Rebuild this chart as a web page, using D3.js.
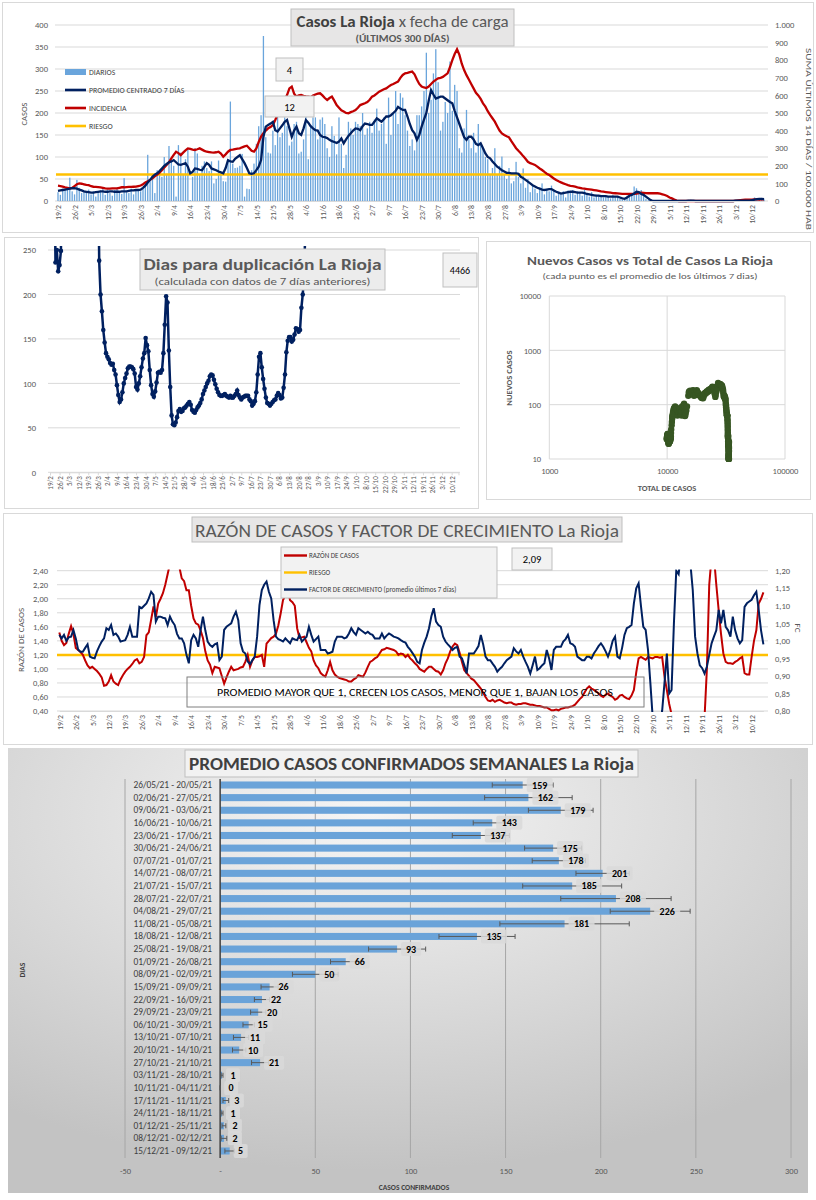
<!DOCTYPE html>
<html lang="es">
<head>
<meta charset="UTF-8">
<script src="https://d3js.org/d3.v7.min.js"></script>
<title>La Rioja</title>
<style>
body {margin: 0; background: #fff;}
svg text {font-family: Carlito, Lato, "Open Sans", sans-serif;}
</style>
</head>
<body>
<svg id="chart" width="816" height="1200"></svg>
<script>
// ---- datos (un valor por dia desde el 19/2/2021) ----
var fechaInicio = new Date(2021, 1, 19);

var diarios = [
 20,14,28,25,30,53,22, 15,48,30,18,22,20,26, 15,22,10,18,24,28,14, 26,18,12,25,30,22,16,
 52,20,18,28,15,26,24, 22,28,32,105,45,60,18, 70,65,55,100,62,125,90, 80,10,127,110,60,95,118,
 2,55,120,108,60,80,90, 75,68,90,40,50,92,60, 45,44,90,226,85,75,76, 80,107,10,28,27,70,85,
 130,170,195,375,145,110,108, 160,127,190,145,155,190,170, 126,135,175,180,108,112,140,
 220,95,170,190,190,140,185, 190,175,120,100,170,148,106, 190,130,75,105,180,165,150,
 180,175,170,200,150,165,180, 155,185,210,160,175,190,130, 235,150,200,250,175,245,235,
 195,160,125,140,115,195,195, 215,250,337,200,230,290,345, 270,160,180,225,200,317,205,
 264,250,120,110,165,207,140, 120,155,110,175,130,120,100, 95,60,75,120,60,80,101,
 60,50,75,40,45,89,55, 40,74,30,50,20,35,28, 18,30,40,15,28,22,35, 25,12,20,15,22,8,24,
 18,25,14,22,20,12,26, 15,10,20,8,14,12,10, 8,12,10,6,14,9,11, 5,3,2,12,18,15,33,
 29,20,25,15,5,2,0, 0,0,0,0,0,0,0, 0,0,0,0,0,0,0, 0,2,3,1,0,0,0, 0,0,1,0,0,0,0,
 0,0,0,0,1,0,0, 2,0,1,3,0,2,1, 4,8,6,3,7,4
];

var promedio7 = [
 23,24,25,26,27,28,29, 29,28,26,24,22,21,20, 19,19,20,21,22,22,21, 21,22,22,21,21,21,22,
 22,22,23,24,24,25,25, 26,30,35,42,48,55,60, 63,68,74,80,84,88,90, 93,88,83,82,84,86,78,
 63,66,74,73,71,70,78, 86,82,74,72,70,67,65, 63,75,93,90,89,96,100, 104,95,86,75,63,62,63,
 70,78,93,146,169,173,176, 180,161,158,165,172,180,184, 165,146,160,169,154,150,165,
 184,178,170,165,161,160,150, 146,145,143,139,136,134,132, 135,142,131,140,148,154,160,
 165,164,161,170,176,175,173, 173,180,188,184,180,186,192, 192,195,200,205,214,210,207,
 207,192,175,161,154,139,150, 169,185,200,228,252,242,233, 235,237,237,233,229,225,222,
 205,190,175,160,145,139,146, 146,140,130,127,131,120,108, 100,97,90,84,78,74,70,
 67,64,64,63,63,63,62, 55,52,48,44,40,36,33, 30,28,26,25,26,27,27, 24,21,19,17,18,19,20,
 21,21,20,19,19,19,18, 16,15,14,13,12,12,11, 11,11,10,10,10,10,10, 8,6,5,8,12,14,17,
 21,20,16,14,10,6,2, 0,0,0,0,0,0,0, 0,0,0,0,0,0,0, 0,1,1,1,0,0,0, 0,0,0,0,0,0,0,
 0,0,0,0,0,0,0, 1,1,1,1,1,1,1, 2,3,4,5,5,4
];

// suma ultimos 14 dias / 100.000 hab
var incidencia = [
 87,85,82,78,75,72,74, 85,95,100,98,95,92,90, 84,81,80,79,78,75,72, 70,70,72,72,72,75,78,
 78,79,80,80,81,82,85, 88,95,105,112,120,129,140, 150,161,175,190,205,220,242, 262,280,272,261,275,288,299,
 296,292,290,294,299,292,285, 280,278,276,275,277,280,270, 252,265,280,290,292,295,298, 299,305,310,314,300,285,280,
 299,335,366,385,400,413,420, 432,460,490,517,545,575,602, 640,650,610,593,600,602,598,
 595,593,590,600,605,610,612, 600,585,574,585,593,570,545, 530,515,508,500,498,505,510,
 517,530,545,550,555,562,575, 593,600,610,621,628,635,640, 650,659,665,672,678,700,716,
 725,728,732,735,720,690,665, 650,645,642,650,665,678,688, 697,700,705,715,725,760,801,
 835,862,830,780,744,715,690, 665,640,615,600,580,555,536, 510,489,470,451,425,400,384,
 375,368,362,340,320,300,285, 271,255,240,223,215,210,205, 195,185,176,165,155,148,138, 128,119,112,106,100,95,90,
 86,85,82,78,75,72,70, 68,66,64,62,60,58,55, 53,51,49,47,45,44,43, 42,41,40,40,40,40,40,
 42,45,47,46,45,44,44, 44,44,44,42,38,34,28, 20,15,8,2,0,0,0, 0,0,0,0,0,0,0, 0,0,0,0,0,0,0,
 0,0,0,0,0,0,0, 2,4,5,6,7,7,8, 8,9,9,8,9,10
];
var riesgoIncidencia = 150;

// dias para duplicacion (400 = fuera de escala)
var duplicacion = [
 400,400,400,400,236,250,226, 233,249,400,400,400,400,400, 400,400,400,400,400,400,400,
 400,400,400,400,400,400,400, 400,400,400,400,400,400,400, 400,238,200,181,160,146,134,
 130,127,123,121,122,115,110, 98,87,79,82,90,100,106, 111,117,119,119,118,116,111,
 96,93,100,108,118,128,134, 151,143,136,115,98,88,85, 91,101,112,113,112,115,134,
 166,198,191,137,96,64,54, 53,56,62,69,71,68,69, 72,73,75,77,79,76,70,
 68,67,70,73,75,78,82, 88,92,96,100,103,108,110, 109,104,99,94,90,87,86,
 86,87,88,86,85,84,86, 84,84,86,88,92,87,84, 82,84,85,86,86,86,82,
 80,75,77,80,90,110,130, 134,118,105,94,84,78,77, 75,77,79,81,82,86,89,
 87,83,84,95,110,135,148, 152,152,147,149,155,162,161, 158,160,185,200,222,280,400
];

var totalInicial = 9900;

var razonCasos = [
 1.52,1.40,1.34,1.37,1.50,1.61,1.50, 1.30,1.27,1.24,1.20,1.12,1.05,1.01, 1.03,1.00,0.97,0.93,0.88,0.76,0.77,
 0.82,0.91,0.82,0.79,0.77,0.85,0.91, 0.96,1.00,1.03,1.07,1.12,1.14,1.08, 1.10,1.17,1.48,1.52,1.70,1.89,1.74,
 1.93,2.00,2.08,2.20,2.35,2.50,2.60, 2.60,2.55,2.45,2.29,2.25,2.12,2.12, 1.90,1.72,1.65,1.63,1.55,1.44,1.25,
 1.12,1.06,0.94,1.03,1.02,1.01,0.90, 0.79,0.88,0.96,1.03,0.98,0.99,1.00, 1.02,1.03,1.10,1.20,1.03,1.12,1.17,
 1.17,1.18,1.20,1.03,1.36,1.40,1.44, 1.46,1.50,1.62,1.79,1.98,2.05,2.12, 1.98,1.95,1.90,1.58,1.44,1.45,1.46,
 1.38,1.30,1.25,1.12,1.05,1.01,0.94, 0.91,0.89,0.98,1.10,0.98,0.92,0.89, 0.87,0.86,0.85,0.84,0.82,0.82,0.85,
 0.87,0.91,0.90,0.89,0.95,1.03,1.10, 1.12,1.15,1.17,1.22,1.27,1.28,1.30, 1.29,1.28,1.27,1.25,1.20,1.22,1.21,
 1.17,1.20,1.15,1.12,1.08,1.05,1.00, 0.98,0.96,1.00,1.03,1.03,1.00,0.97, 0.96,0.92,0.98,1.08,1.15,1.25,1.32,
 1.36,1.34,1.23,1.10,0.98,0.94,0.90, 0.86,0.84,0.80,0.76,0.72,0.66,0.60, 0.55,0.54,0.56,0.53,0.55,0.56,0.54,
 0.52,0.51,0.52,0.52,0.50,0.49,0.50, 0.50,0.51,0.51,0.50,0.49,0.49,0.48, 0.47,0.47,0.46,0.45,0.45,0.43,0.41,
 0.41,0.42,0.41,0.43,0.44,0.45,0.45, 0.46,0.47,0.49,0.53,0.57,0.60,0.66, 0.72,0.75,0.72,0.70,0.68,0.65,0.62,
 0.60,0.63,0.65,0.62,0.60,0.56,0.58, 0.62,0.63,0.60,0.58,0.57,0.62,0.70, 0.95,1.15,1.17,1.15,1.13,1.17,1.16,
 1.15,1.17,1.17,1.16,1.17,0.89,0.70, 0.50,0.35,0.20,0.20,0.20,0.20,0.20, 0.20,0.20,0.20,0.20,0.20,0.20,0.20,
 0.20,0.30,1.00,2.20,2.60,2.60,2.20, 1.84,1.50,1.22,1.10,1.08,1.08,1.07, 1.10,1.12,1.15,1.17,0.94,0.92,0.92,
 1.17,1.40,1.55,1.93,2.00,2.09
];
var riesgoRazon = 1.2;

var factorCrecimiento = [
 1.017,1.007,1.017,1.000,1.010,1.012,1.031, 1.007,0.975,0.969,0.969,0.980,0.990,0.955, 0.952,0.950,0.970,0.985,0.998,1.007,1.036,
 1.031,1.045,1.017,1.021,1.012,0.998,1.000, 1.002,1.017,1.040,1.012,1.012,1.012,1.097, 1.093,1.100,1.107,1.121,1.140,1.131,1.055,
 1.069,1.069,1.066,1.064,1.045,1.069,1.055, 1.045,1.020,1.007,1.007,0.993,0.960,0.936, 1.002,1.017,1.007,0.983,1.031,1.069,1.030,
 0.998,0.988,0.983,0.990,0.993,0.945,0.955, 1.031,1.040,1.045,1.050,1.069,1.083,1.059, 0.993,0.970,0.964,0.941,0.934,0.945,0.955,
 1.012,1.102,1.145,1.160,1.169,1.140,1.121, 1.059,1.012,1.005,1.002,0.998,1.007,1.000, 0.993,1.007,1.004,1.002,1.017,0.998,1.005,
 1.012,1.040,1.017,0.998,1.005,1.012,0.974, 0.974,0.974,0.964,0.966,0.969,0.998,1.012, 1.012,1.012,1.007,1.010,1.021,1.036,1.025,
 1.017,1.036,1.031,1.026,1.021,1.026,1.020, 1.017,1.007,1.007,1.007,1.021,1.007,1.015, 1.021,1.017,1.012,1.010,1.007,1.002,0.998,
 0.995,0.983,0.975,0.965,0.955,0.940,0.936, 0.974,0.995,1.012,1.036,1.070,1.093,1.055, 1.045,1.040,1.012,0.998,0.990,0.983,0.974,
 0.980,0.983,0.955,0.950,0.930,0.907,0.964, 0.964,0.964,0.974,0.985,1.017,0.990,0.955, 0.945,0.945,0.935,0.926,0.912,0.920,0.926,
 0.936,0.945,0.950,0.955,0.979,0.970,0.964, 0.974,0.955,0.940,0.926,0.907,0.930,0.955, 0.917,0.922,0.930,0.936,0.974,0.950,0.917,
 0.974,0.983,0.983,0.983,0.998,1.005,1.017, 0.993,0.990,0.983,0.955,0.950,0.945,0.945, 0.955,0.955,0.950,0.964,0.974,0.985,0.993,
 0.983,0.970,0.955,0.974,1.000,1.012,0.955, 0.950,0.980,1.017,1.036,1.040,1.045,1.107, 1.150,1.164,1.100,1.040,1.031,0.974,0.880,
 0.780,0.750,0.740,0.760,0.800,0.880,0.964, 0.850,0.860,1.050,1.200,1.190,1.250,1.300, 1.300,1.280,1.220,1.145,1.012,0.964,0.930,
 0.922,0.907,0.926,0.960,0.993,1.012,1.030, 1.088,1.050,1.088,1.040,1.030,1.012,1.069, 1.030,1.007,0.993,1.002,1.097,1.107,1.112,
 1.117,1.130,1.140,1.088,1.030,0.990
];

var semanas = [
 "26/05/21 - 20/05/21","02/06/21 - 27/05/21","09/06/21 - 03/06/21","16/06/21 - 10/06/21","23/06/21 - 17/06/21",
 "30/06/21 - 24/06/21","07/07/21 - 01/07/21","14/07/21 - 08/07/21","21/07/21 - 15/07/21","28/07/21 - 22/07/21",
 "04/08/21 - 29/07/21","11/08/21 - 05/08/21","18/08/21 - 12/08/21","25/08/21 - 19/08/21","01/09/21 - 26/08/21",
 "08/09/21 - 02/09/21","15/09/21 - 09/09/21","22/09/21 - 16/09/21","29/09/21 - 23/09/21","06/10/21 - 30/09/21",
 "13/10/21 - 07/10/21","20/10/21 - 14/10/21","27/10/21 - 21/10/21","03/11/21 - 28/10/21","10/11/21 - 04/11/21",
 "17/11/21 - 11/11/21","24/11/21 - 18/11/21","01/12/21 - 25/11/21","08/12/21 - 02/12/21","15/12/21 - 09/12/21"
];
var promedioSemanal = [159,162,179,143,137,175,178,201,185,208,226,181,135,93,66,50,26,22,20,15,11,10,21,1,0,3,1,2,2,5];
var desvioSemanal = [16,23,17,10,15,15,14,14,26,29,21,34,20,15,8,12,4.5,4,4,3,4,3.5,4.5,0.5,0,1.5,0.5,1,1.5,2.5];

// ---- helpers ----
var es = d3.formatLocale({decimal: ",", thousands: ".", grouping: [3], currency: ["$", ""]});
var gray = "#595959";
function fechaLabel(i) {
    var d = d3.timeDay.offset(fechaInicio, i);
    return d.getDate() + "/" + (d.getMonth() + 1);
}
var semanaTicks = d3.range(0, 295, 7);

var svg = d3.select("#chart");
var defs = svg.append("defs");

function panel(x, y, w, h) {
    svg.append("rect").attr("x", x).attr("y", y).attr("width", w).attr("height", h)
        .attr("fill", "#fff").attr("stroke", "#d9d9d9");
}
function box(g, x, y, w, h, fill, stroke) {
    return g.append("rect").attr("x", x).attr("y", y).attr("width", w).attr("height", h)
        .attr("fill", fill).attr("stroke", stroke);
}
function styleAxis(sel, size) {
    sel.select(".domain").remove();
    sel.selectAll("text").attr("fill", gray).attr("font-size", size).attr("font-family", "Carlito, Lato, sans-serif");
}
function dateAxis(g, scale, y, size, tickLen) {
    var ax = g.append("g").attr("transform", "translate(0," + y + ")")
        .call(d3.axisBottom(scale).tickValues(semanaTicks).tickFormat(fechaLabel).tickSize(tickLen));
    ax.select(".domain").attr("stroke", "#d9d9d9");
    ax.selectAll("line").attr("stroke", "#d9d9d9");
    ax.selectAll("text").attr("transform", "rotate(-90)").attr("x", -4).attr("y", 0)
        .attr("dy", "0.35em").attr("text-anchor", "end")
        .attr("fill", gray).attr("font-size", size).attr("font-family", "Carlito, Lato, sans-serif");
}

// =============== 1. CASOS x fecha de carga ===============
panel(2.5, 2.5, 811, 230);
var g1 = svg.append("g");
var x1 = d3.scaleLinear().domain([0, 299]).range([58, 764]);
var y1 = d3.scaleLinear().domain([0, 400]).range([201, 25]);
var y1r = d3.scaleLinear().domain([0, 1000]).range([201, 25]);

g1.selectAll(".grid1").data(d3.range(0, 401, 50)).enter().append("line")
    .attr("x1", 55).attr("x2", 768).attr("y1", y1).attr("y2", y1)
    .attr("stroke", "#d9d9d9");

g1.append("g").attr("transform", "translate(55,0)")
    .call(d3.axisLeft(y1).tickValues(d3.range(0, 401, 50)).tickSize(0).tickPadding(7))
    .call(styleAxis, 8.5);
g1.append("g").attr("transform", "translate(772,0)")
    .call(d3.axisRight(y1r).tickValues(d3.range(0, 1001, 100)).tickSize(0).tickPadding(3).tickFormat(es.format(",")))
    .call(styleAxis, 8.5);

g1.selectAll(".bar1").data(diarios).enter().append("rect")
    .attr("x", function(d, i) { return x1(i) - 0.65; })
    .attr("width", 1.3)
    .attr("y", function(d) { return y1(d); })
    .attr("height", function(d) { return y1(0) - y1(d); })
    .attr("fill", "#6aa5dc");

g1.append("line").attr("x1", 56).attr("x2", 768)
    .attr("y1", y1r(riesgoIncidencia)).attr("y2", y1r(riesgoIncidencia))
    .attr("stroke", "#ffc000").attr("stroke-width", 2.5);

g1.append("path").datum(incidencia)
    .attr("d", d3.line().x(function(d, i) { return x1(i); }).y(function(d) { return y1r(d); }))
    .attr("fill", "none").attr("stroke", "#c00000").attr("stroke-width", 2.3);
g1.append("path").datum(promedio7)
    .attr("d", d3.line().x(function(d, i) { return x1(i); }).y(function(d) { return y1(d); }))
    .attr("fill", "none").attr("stroke", "#002060").attr("stroke-width", 2.3);

dateAxis(g1, x1, 201, 7.8, 0);

g1.append("text").attr("transform", "translate(27,114) rotate(-90)").attr("text-anchor", "middle")
    .attr("font-size", 8.5).attr("fill", gray).text("CASOS");
g1.append("text").attr("transform", "translate(806,139) rotate(90)").attr("text-anchor", "middle")
    .attr("font-size", 9).attr("fill", gray).attr("textLength", 182).attr("lengthAdjust", "spacingAndGlyphs")
    .text("SUMA  ÚLTIMOS 14 DÍAS / 100.000 HAB");

// legend
var leg1 = [
    {t: "DIARIOS", c: "#6aa5dc", bar: true},
    {t: "PROMEDIO CENTRADO 7 DÍAS", c: "#002060"},
    {t: "INCIDENCIA", c: "#c00000"},
    {t: "RIESGO", c: "#ffc000"}
];
var lg1 = g1.selectAll(".leg1").data(leg1).enter().append("g")
    .attr("transform", function(d, i) { return "translate(65," + (72 + i * 18) + ")"; });
lg1.append("rect").attr("x", 0).attr("width", 21)
    .attr("y", function(d) { return d.bar ? -3 : -1.3; })
    .attr("height", function(d) { return d.bar ? 6 : 2.6; })
    .attr("fill", function(d) { return d.c; });
lg1.append("text").attr("x", 24).attr("dy", "0.35em").attr("font-size", 7.8).attr("fill", "#404040")
    .text(function(d) { return d.t; });

box(g1, 276, 58, 27, 23, "#f2f2f2", "#bfbfbf");
g1.append("text").attr("x", 289.5).attr("y", 73.5).attr("text-anchor", "middle").attr("font-size", 10.5).text("4");
box(g1, 265, 96, 49, 21, "#f2f2f2", "#bfbfbf");
g1.append("text").attr("x", 289.5).attr("y", 110.5).attr("text-anchor", "middle").attr("font-size", 10.5).text("12");

box(g1, 291, 9, 223, 37, "#e7e6e6", "#bfbfbf");
var t1 = g1.append("text").attr("x", 402.5).attr("y", 27).attr("text-anchor", "middle")
    .attr("font-size", 16.5).attr("textLength", 212).attr("lengthAdjust", "spacingAndGlyphs");
t1.append("tspan").attr("font-weight", "bold").attr("fill", "#404040").text("Casos  La Rioja ");
t1.append("tspan").attr("fill", gray).text("x fecha de carga");
g1.append("text").attr("x", 402.5).attr("y", 41.5).attr("text-anchor", "middle").attr("font-size", 10)
    .attr("font-weight", "bold").attr("fill", gray).attr("textLength", 94).attr("lengthAdjust", "spacingAndGlyphs")
    .text("(ÚLTIMOS 300 DÍAS)");

// =============== 2. Dias para duplicacion ===============
panel(4.5, 237.5, 474, 271);
var g2 = svg.append("g");
var x2 = d3.scaleLinear().domain([0, 299]).range([50, 458.5]);
var y2 = d3.scaleLinear().domain([0, 250]).range([472.3, 250]);

g2.selectAll(".grid2").data(d3.range(50, 251, 50)).enter().append("line")
    .attr("x1", 48).attr("x2", 460).attr("y1", y2).attr("y2", y2).attr("stroke", "#d9d9d9");
g2.append("g").attr("transform", "translate(44,0)")
    .call(d3.axisLeft(y2).tickValues(d3.range(0, 251, 50)).tickSize(0).tickPadding(8))
    .call(styleAxis, 8.5);
g2.append("line").attr("x1", 48).attr("x2", 460).attr("y1", y2(0)).attr("y2", y2(0)).attr("stroke", "#d9d9d9");
dateAxis(g2, x2, y2(0), 7, 3);

defs.append("clipPath").attr("id", "clip2").append("rect").attr("x", 40).attr("y", 246).attr("width", 425).attr("height", 230);
var dup = g2.append("g").attr("clip-path", "url(#clip2)");
dup.append("path").datum(duplicacion)
    .attr("d", d3.line().x(function(d, i) { return x2(i); }).y(function(d) { return y2(d); }))
    .attr("fill", "none").attr("stroke", "#002060").attr("stroke-width", 2.5);
dup.selectAll(".pt2").data(duplicacion).enter().append("circle")
    .attr("cx", function(d, i) { return x2(i); }).attr("cy", function(d) { return y2(d); })
    .attr("r", 2.3).attr("fill", "#002060");

box(g2, 140, 249, 245, 41, "#ececec", "#bfbfbf");
g2.append("text").attr("x", 262.5).attr("y", 270).attr("text-anchor", "middle").attr("font-size", 16.5)
    .attr("font-weight", "bold").attr("fill", gray).attr("textLength", 238).attr("lengthAdjust", "spacingAndGlyphs")
    .text("Dias para duplicación La Rioja");
g2.append("text").attr("x", 262.5).attr("y", 285).attr("text-anchor", "middle").attr("font-size", 10.5)
    .attr("fill", gray).attr("textLength", 216).attr("lengthAdjust", "spacingAndGlyphs")
    .text("(calculada con datos de 7 días anteriores)");
box(g2, 443, 253, 34, 34, "#f2f2f2", "#bfbfbf");
g2.append("text").attr("x", 460).attr("y", 274).attr("text-anchor", "middle").attr("font-size", 10).text("4466");

// =============== 3. Nuevos casos vs total ===============
panel(486.5, 241.5, 324, 258);
var g3 = svg.append("g");
var x3 = d3.scaleLog().domain([1000, 100000]).range([549.3, 785]);
var y3 = d3.scaleLog().domain([10, 10000]).range([459, 296]);

g3.selectAll(".gx3").data([1000, 10000, 100000]).enter().append("line")
    .attr("x1", x3).attr("x2", x3).attr("y1", 296).attr("y2", 459).attr("stroke", "#d9d9d9");
g3.selectAll(".gy3").data([10, 100, 1000, 10000]).enter().append("line")
    .attr("x1", 549.3).attr("x2", 785).attr("y1", y3).attr("y2", y3).attr("stroke", "#d9d9d9");
g3.append("g").attr("transform", "translate(546,0)")
    .call(d3.axisLeft(y3).tickValues([10, 100, 1000, 10000]).tickFormat(d3.format("d")).tickSize(0).tickPadding(5))
    .call(styleAxis, 8.5);
g3.append("g").attr("transform", "translate(0,462)")
    .call(d3.axisBottom(x3).tickValues([1000, 10000, 100000]).tickFormat(d3.format("d")).tickSize(0).tickPadding(6))
    .call(styleAxis, 8.5);

var totalAcum = d3.cumsum(diarios).map(function(v) { return totalInicial + v; });
defs.append("clipPath").attr("id", "clip3").append("rect").attr("x", 545).attr("y", 292).attr("width", 245).attr("height", 170);
g3.append("g").attr("clip-path", "url(#clip3)")
    .selectAll(".pt3").data(promedio7.map(function(v, i) { return [totalAcum[i], v]; })
        .filter(function(d) { return d[1] > 0; }))
    .enter().append("circle")
    .attr("cx", function(d) { return x3(d[0]); }).attr("cy", function(d) { return y3(d[1]); })
    .attr("r", 3.2).attr("fill", "#375623");

g3.append("text").attr("x", 650).attr("y", 265).attr("text-anchor", "middle").attr("font-size", 12.5)
    .attr("font-weight", "bold").attr("fill", gray).attr("textLength", 246).attr("lengthAdjust", "spacingAndGlyphs")
    .text("Nuevos Casos vs Total de Casos La Rioja");
g3.append("text").attr("x", 650).attr("y", 279).attr("text-anchor", "middle").attr("font-size", 8.5)
    .attr("fill", gray).attr("textLength", 215).attr("lengthAdjust", "spacingAndGlyphs")
    .text("(cada punto es el promedio de los últimos 7 dias)");
g3.append("text").attr("transform", "translate(512,378) rotate(-90)").attr("text-anchor", "middle")
    .attr("font-size", 8.5).attr("font-weight", "bold").attr("fill", gray).text("NUEVOS  CASOS");
g3.append("text").attr("x", 667).attr("y", 491).attr("text-anchor", "middle")
    .attr("font-size", 8.5).attr("font-weight", "bold").attr("fill", gray).text("TOTAL  DE  CASOS");

// =============== 4. Razon de casos y factor de crecimiento ===============
panel(3.5, 513.5, 809, 231);
var g4 = svg.append("g");
var x4 = d3.scaleLinear().domain([0, 299]).range([59.3, 763.4]);
var y4 = d3.scaleLinear().domain([0.4, 2.4]).range([711, 570.7]);
var y4r = d3.scaleLinear().domain([0.8, 1.2]).range([711, 570.7]);

g4.selectAll(".grid4").data(d3.range(0.4, 2.41, 0.2)).enter().append("line")
    .attr("x1", 57).attr("x2", 768).attr("y1", y4).attr("y2", y4).attr("stroke", "#d9d9d9");
g4.append("g").attr("transform", "translate(55,0)")
    .call(d3.axisLeft(y4).tickValues(d3.range(0.4, 2.41, 0.2)).tickFormat(es.format(".2f")).tickSize(0).tickPadding(7))
    .call(styleAxis, 8.5);
g4.append("g").attr("transform", "translate(770,0)")
    .call(d3.axisRight(y4r).tickValues(d3.range(0.8, 1.201, 0.05)).tickFormat(es.format(".2f")).tickSize(0).tickPadding(5))
    .call(styleAxis, 8.5);
dateAxis(g4, x4, 711, 7.8, 0);

defs.append("clipPath").attr("id", "clip4").append("rect").attr("x", 55).attr("y", 569.5).attr("width", 715).attr("height", 142.5);
var c4 = g4.append("g").attr("clip-path", "url(#clip4)");
c4.append("line").attr("x1", 57).attr("x2", 768).attr("y1", y4(riesgoRazon)).attr("y2", y4(riesgoRazon))
    .attr("stroke", "#ffc000").attr("stroke-width", 2.5);
c4.append("path").datum(razonCasos)
    .attr("d", d3.line().x(function(d, i) { return x4(i); }).y(function(d) { return y4(d); }))
    .attr("fill", "none").attr("stroke", "#c00000").attr("stroke-width", 2);
c4.append("path").datum(factorCrecimiento)
    .attr("d", d3.line().x(function(d, i) { return x4(i); }).y(function(d) { return y4r(d); }))
    .attr("fill", "none").attr("stroke", "#002060").attr("stroke-width", 2);

g4.append("text").attr("transform", "translate(24,640) rotate(-90)").attr("text-anchor", "middle")
    .attr("font-size", 9).attr("fill", gray).text("RAZÓN  DE CASOS");
g4.append("text").attr("transform", "translate(795,628) rotate(90)").attr("text-anchor", "middle")
    .attr("font-size", 9).attr("fill", gray).text("FC");

box(g4, 192, 517, 430, 25, "#e7e6e6", "#bfbfbf");
g4.append("text").attr("x", 407).attr("y", 537).attr("text-anchor", "middle").attr("font-size", 19)
    .attr("fill", gray).attr("textLength", 424).attr("lengthAdjust", "spacingAndGlyphs")
    .text("RAZÓN DE CASOS Y FACTOR DE CRECIMIENTO La Rioja");

box(g4, 281, 547, 216, 51, "#f2f2f2", "#bfbfbf");
var leg4 = [
    {t: "RAZÓN DE CASOS", c: "#c00000"},
    {t: "RIESGO", c: "#ffc000"},
    {t: "FACTOR DE CRECIMIENTO (promedio últimos 7 días)", c: "#002060"}
];
var lg4 = g4.selectAll(".leg4").data(leg4).enter().append("g")
    .attr("transform", function(d, i) { return "translate(284," + (555.5 + i * 17) + ")"; });
lg4.append("rect").attr("x", 0).attr("y", -1.2).attr("width", 23).attr("height", 2.4).attr("fill", function(d) { return d.c; });
lg4.append("text").attr("x", 25).attr("dy", "0.35em").attr("font-size", 7).attr("fill", "#404040")
    .text(function(d) { return d.t; });

box(g4, 512, 548, 40, 22, "#f2f2f2", "#bfbfbf");
g4.append("text").attr("x", 532).attr("y", 563).attr("text-anchor", "middle").attr("font-size", 10.5).text("2,09");

box(g4, 187, 677, 457, 30, "none", "#7f7f7f");
g4.append("text").attr("x", 415).attr("y", 696).attr("text-anchor", "middle").attr("font-size", 11)
    .attr("fill", "#000").attr("textLength", 396).attr("lengthAdjust", "spacingAndGlyphs")
    .text("PROMEDIO MAYOR QUE 1, CRECEN LOS CASOS, MENOR QUE 1, BAJAN LOS CASOS");

// =============== 5. Promedio casos confirmados semanales ===============
var grad = defs.append("radialGradient").attr("id", "bg5").attr("cx", "45%").attr("cy", "15%").attr("r", "80%");
grad.append("stop").attr("offset", "0%").attr("stop-color", "#f5f5f5");
grad.append("stop").attr("offset", "100%").attr("stop-color", "#c3c3c3");
svg.append("rect").attr("x", 8).attr("y", 748).attr("width", 800).attr("height", 445).attr("fill", "url(#bg5)");

var g5 = svg.append("g");
var x5 = d3.scaleLinear().domain([-50, 300]).range([125, 791]);
var y5 = d3.scaleBand().domain(semanas).range([778.7, 1157.3]).paddingInner(0.44).paddingOuter(0.22);

g5.selectAll(".grid5").data([-50, 50, 100, 150, 200, 250, 300]).enter().append("line")
    .attr("x1", x5).attr("x2", x5).attr("y1", 779).attr("y2", 1158).attr("stroke", "#a6a6a6").attr("stroke-width", 1);

g5.selectAll(".bar5").data(promedioSemanal).enter().append("rect")
    .attr("x", x5(0))
    .attr("y", function(d, i) { return y5(semanas[i]); })
    .attr("width", function(d) { return x5(d) - x5(0); })
    .attr("height", y5.bandwidth())
    .attr("fill", "#6aa3d9");

g5.append("line").attr("x1", x5(0)).attr("x2", x5(0)).attr("y1", 779).attr("y2", 1158)
    .attr("stroke", "#404040").attr("stroke-width", 1.5);

var err = g5.selectAll(".err5").data(promedioSemanal).enter().append("g")
    .attr("transform", function(d, i) { return "translate(0," + (y5(semanas[i]) + y5.bandwidth() / 2) + ")"; });
err.append("line")
    .attr("x1", function(d, i) { return x5(d - desvioSemanal[i]); })
    .attr("x2", function(d, i) { return x5(d + desvioSemanal[i]); })
    .attr("stroke", "#595959");
err.append("line")
    .attr("x1", function(d, i) { return x5(d - desvioSemanal[i]); })
    .attr("x2", function(d, i) { return x5(d - desvioSemanal[i]); })
    .attr("y1", -2.5).attr("y2", 2.5).attr("stroke", "#595959");
err.append("line")
    .attr("x1", function(d, i) { return x5(d + desvioSemanal[i]); })
    .attr("x2", function(d, i) { return x5(d + desvioSemanal[i]); })
    .attr("y1", -2.5).attr("y2", 2.5).attr("stroke", "#595959");

var lab5 = g5.selectAll(".lab5").data(promedioSemanal).enter().append("g")
    .attr("transform", function(d, i) { return "translate(" + (x5(d) + 4) + "," + (y5(semanas[i]) + y5.bandwidth() / 2) + ")"; });
lab5.append("rect").attr("y", -7).attr("height", 14).attr("rx", 2)
    .attr("width", function(d) { return String(d).length * 6 + 8; })
    .attr("fill", "#d9d9d9").attr("fill-opacity", 0.85);
lab5.append("text")
    .attr("x", function(d) { return (String(d).length * 6 + 8) / 2; })
    .attr("dy", "0.35em").attr("text-anchor", "middle").attr("font-size", 10).attr("font-weight", "bold")
    .attr("fill", "#000").text(function(d) { return d; });

g5.append("g").attr("transform", "translate(212,0)")
    .call(d3.axisLeft(y5).tickSize(0).tickPadding(0))
    .call(styleAxis, 9.4);
g5.selectAll("g text").filter(function() { return semanas.indexOf(this.textContent) >= 0; }).attr("fill", "#404040");

g5.append("g").attr("transform", "translate(0,1166)")
    .call(d3.axisBottom(x5).tickValues(d3.range(-50, 301, 50)).tickSize(0).tickPadding(2)
        .tickFormat(function(d) { return d === 0 ? "-" : d; }))
    .call(styleAxis, 8.5);

g5.append("text").attr("x", 414).attr("y", 1190).attr("text-anchor", "middle").attr("font-size", 7.5)
    .attr("font-weight", "bold").attr("fill", "#404040").text("CASOS CONFIRMADOS");
g5.append("text").attr("transform", "translate(25,970) rotate(-90)").attr("text-anchor", "middle")
    .attr("font-size", 7.5).attr("font-weight", "bold").attr("fill", "#404040").text("DIAS");

box(g5, 185, 750, 453, 27, "#f2f2f2", "#bfbfbf");
g5.append("text").attr("x", 411.5).attr("y", 770).attr("text-anchor", "middle").attr("font-size", 18)
    .attr("font-weight", "bold").attr("fill", "#404040").attr("textLength", 445).attr("lengthAdjust", "spacingAndGlyphs")
    .text("PROMEDIO CASOS CONFIRMADOS SEMANALES La Rioja");
</script>
</body>
</html>
